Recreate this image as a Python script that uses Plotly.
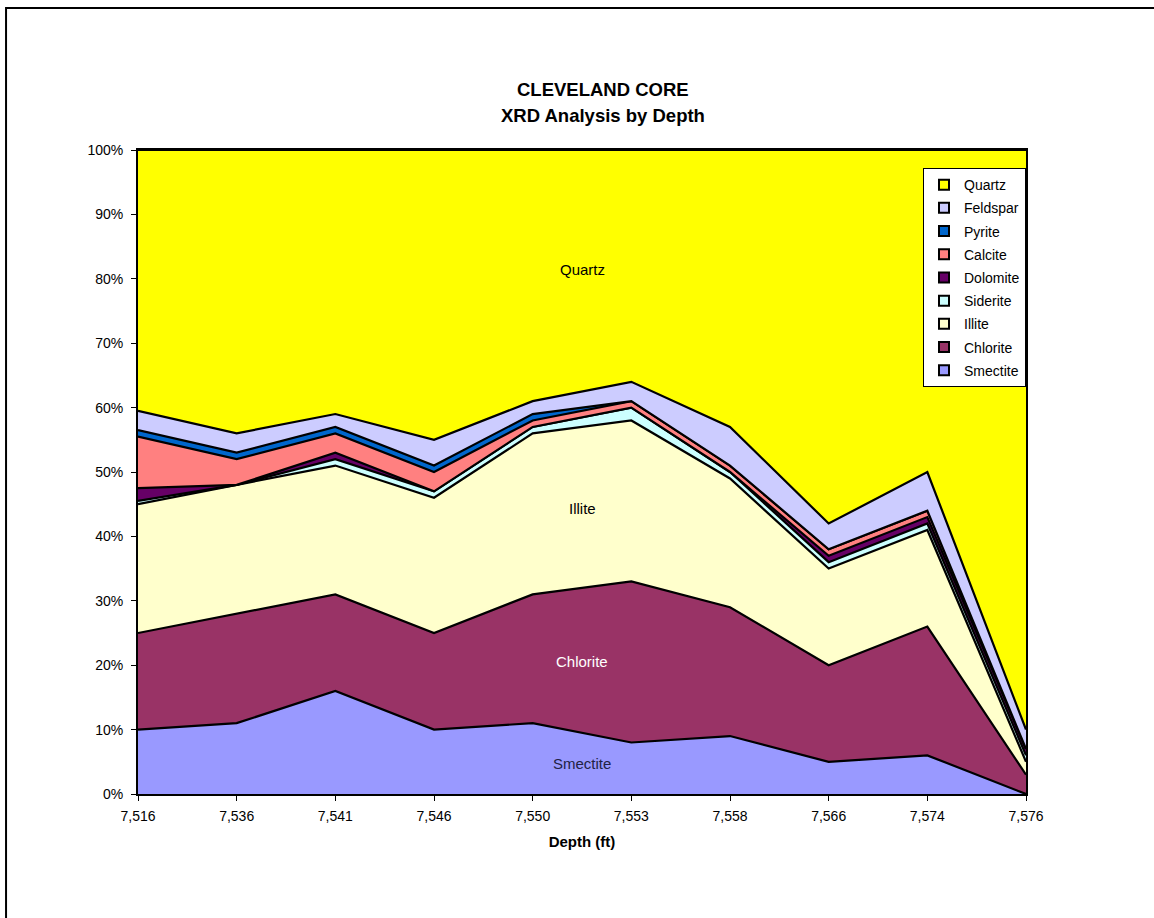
import plotly.graph_objects as go

# Core depths (ft) used as category labels
depths = ["7,516", "7,536", "7,541", "7,546", "7,550", "7,553", "7,558", "7,566", "7,574", "7,576"]

# Mineral fractions (%) at each depth, bottom of the stack first
smectite = [10, 11, 16, 10, 11, 8, 9, 5, 6, 0]
chlorite = [15, 17, 15, 15, 20, 25, 20, 15, 20, 3]
illite = [20, 20, 20, 21, 25, 25, 20, 15, 15, 2]
siderite = [0.5, 0, 1, 1, 1, 2, 1, 1, 1, 1]
dolomite = [2, 0, 1, 0, 0, 0, 0, 1, 1, 1]
calcite = [8, 4, 3, 3, 1, 1, 1, 1, 1, 0]
pyrite = [1, 1, 1, 1, 1, 0, 0, 0, 0, 0]
feldspar = [3, 3, 2, 4, 2, 3, 6, 4, 6, 3]
quartz = [40.5, 44, 41, 45, 39, 36, 43, 58, 50, 90]

series = [
    ("Smectite", smectite, "#9999FF"),
    ("Chlorite", chlorite, "#993366"),
    ("Illite", illite, "#FFFFCC"),
    ("Siderite", siderite, "#CCFFFF"),
    ("Dolomite", dolomite, "#660066"),
    ("Calcite", calcite, "#FF8080"),
    ("Pyrite", pyrite, "#0066CC"),
    ("Feldspar", feldspar, "#CCCCFF"),
    ("Quartz", quartz, "#FFFF00"),
]

FONT = "Liberation Sans, Arial, sans-serif"

fig = go.Figure()

# 100% stacked areas
for name, vals, color in series:
    fig.add_trace(go.Scatter(
        x=depths, y=vals, name=name, mode="lines",
        stackgroup="xrd", groupnorm="percent",
        line=dict(color="black", width=2.2),
        fillcolor=color, showlegend=False,
    ))

# Legend entries (square swatches), Quartz at the top
for name, vals, color in reversed(series):
    fig.add_trace(go.Scatter(
        x=[None], y=[None], name=name, mode="markers",
        legendgroup=name,
        marker=dict(symbol="square", size=10, color=color,
                    line=dict(color="black", width=2)),
        showlegend=True,
    ))

# Labels placed inside the main areas
area_labels = [
    ("Quartz", 81.4, "black"),
    ("Illite", 44.3, "black"),
    ("Chlorite", 20.6, "white"),
    ("Smectite", 4.7, "#222244"),
]
for text, yv, col in area_labels:
    fig.add_annotation(x=4.5, y=yv, xref="x", yref="y", text=text,
                       showarrow=False, font=dict(family=FONT, size=15, color=col))

# Two-line chart title
fig.add_annotation(x=0.5236, y=1.0932, xref="paper", yref="paper",
                   yanchor="middle", text="<b>CLEVELAND CORE</b>", showarrow=False,
                   font=dict(family=FONT, size=18.5, color="black"))
fig.add_annotation(x=0.5236, y=1.0543, xref="paper", yref="paper",
                   yanchor="middle", text="<b>XRD Analysis by Depth</b>", showarrow=False,
                   font=dict(family=FONT, size=18.5, color="black"))

# Outer chart frame
fig.add_shape(type="rect", xref="paper", yref="paper",
              x0=-0.1486, x1=1.16, y0=-0.22, y1=1.2205,
              line=dict(color="black", width=2), fillcolor="rgba(0,0,0,0)",
              layer="below")

fig.update_layout(
    width=1154, height=918,
    margin=dict(l=138, r=128, t=150, b=124),
    paper_bgcolor="white", plot_bgcolor="white",
    font=dict(family=FONT, size=14, color="black"),
    legend=dict(
        x=1, xanchor="right", y=0.972, yanchor="top",
        bgcolor="white", bordercolor="black", borderwidth=1,
        font=dict(family=FONT, size=14, color="black"),
        itemwidth=30, traceorder="grouped", tracegroupgap=2,
    ),
    xaxis=dict(
        type="category", range=[0, 9],
        showline=True, linecolor="black", linewidth=2, mirror=True,
        ticks="outside", ticklen=5, tickcolor="black", tickwidth=1,
        ticklabelstandoff=3,
        showgrid=False, zeroline=False,
        tickfont=dict(family=FONT, size=14),
        title=dict(text="<b>Depth (ft)</b>", standoff=14,
                   font=dict(family=FONT, size=15)),
    ),
    yaxis=dict(
        range=[0, 100], dtick=10, ticksuffix="%",
        showline=True, linecolor="black", linewidth=2, mirror=True,
        ticks="outside", ticklen=5, tickcolor="black", tickwidth=1,
        ticklabelstandoff=5,
        showgrid=False, zeroline=False,
        tickfont=dict(family=FONT, size=14),
    ),
)

fig.write_html("out.html")
